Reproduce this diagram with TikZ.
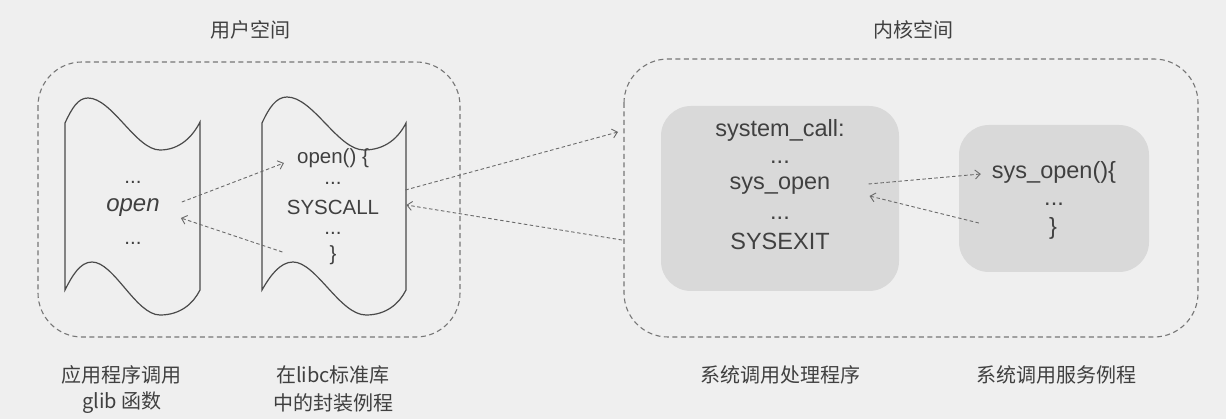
\documentclass[tikz,border=0pt]{standalone}
\usepackage{fontspec}
\setmainfont{Liberation Sans}
\newfontfamily\cjk{Noto Sans CJK SC}
\usetikzlibrary{arrows.meta}
\definecolor{bggray}{HTML}{EFEFEF}
\definecolor{boxgray}{HTML}{D9D9D9}
\definecolor{txtgray}{HTML}{404040}
\definecolor{linegray}{HTML}{767676}
\definecolor{arrowgray}{HTML}{6A6A6A}
\definecolor{edgegray}{HTML}{4A4A4A}
\tikzset{
  code/.style={text=txtgray, inner sep=0pt, font=\fontsize{20.5}{23}\selectfont},
  kcode/.style={text=txtgray, inner sep=0pt, font=\fontsize{23.5}{27}\selectfont},
  caption/.style={text=txtgray, inner sep=0pt, font=\cjk\fontsize{20}{24}\selectfont},
  spacebox/.style={draw=linegray, dash pattern=on 5pt off 3.5pt, rounded corners=44pt, line width=1.1pt},
  kbox/.style={fill=boxgray, rounded corners=30pt, inner sep=0pt},
  scroll/.style={draw=edgegray, line width=1.2pt},
  call/.style={draw=arrowgray, dash pattern=on 3.5pt off 2.5pt, line width=0.9pt, -{Straight Barb[length=5pt,width=9pt]}},
}
\begin{document}
\begin{tikzpicture}[x=1pt,y=-1pt]
    \fill[bggray] (0,0) rectangle (1226,419);
    \useasboundingbox (0,0) rectangle (1226,419);
    % user space
    \node[caption] (user) at (250,30) {用户空间};
    \draw[spacebox] (38,62) rectangle (460,337);
    \draw[scroll] (65,123) .. controls (72,108) and (78,98) .. (88,98)
        .. controls (112,98) and (136,150) .. (160,150)
        .. controls (180,150) and (193,136) .. (200,122) -- (200,290)
        .. controls (193,304) and (180,315) .. (160,315)
        .. controls (136,315) and (114,262) .. (92,262)
        .. controls (80,262) and (72,276) .. (65,290) -- cycle;
    \draw[scroll] (262,123) .. controls (269,108) and (276,97) .. (287,97)
        .. controls (313,97) and (338,150) .. (364,150)
        .. controls (386,150) and (399,137) .. (406,123) -- (406,290)
        .. controls (399,304) and (386,315) .. (366,315)
        .. controls (340,315) and (316,262) .. (293,262)
        .. controls (280,262) and (270,276) .. (262,290) -- cycle;
    \node[code] (dotsa) at (133,182) {...};
    \node[code, font=\fontsize{24}{27}\selectfont\itshape] (open) at (133,208) {open};
    \node[code] (dotsb) at (133,243) {...};
    \node[code] (openfn) at (333,158) {open()\ \{};
    \node[code] (dotsc) at (333,183) {...};
    \node[code] (syscall) at (333,207) {SYSCALL};
    \node[code] (dotsd) at (333,233) {...};
    \node[code] (closefn) at (333,255) {\}};
    % kernel space
    \node[caption] (kernel) at (913,30) {内核空间};
    \draw[spacebox] (624,59) rectangle (1198,337);
    \node[kbox, minimum width=238, minimum height=185] (handler) at (780,198.5) {};
    \node[kbox, minimum width=190, minimum height=147] (service) at (1054,198.5) {};
    \node[kcode] (sysentry) at (780,130) {system\_call:};
    \node[kcode] (dotse) at (780,162) {...};
    \node[kcode] (sysopen) at (780,186) {sys\_open};
    \node[kcode] (dotsf) at (780,218) {...};
    \node[kcode] (sysexit) at (780,241) {SYSEXIT};
    \node[kcode] (sysopenfn) at (1054,172) {sys\_open()\{};
    \node[kcode] (dotsg) at (1054,204) {...};
    \node[kcode] (sysclose) at (1053,228) {\}};
    \coordinate (kin) at (618,132);
    \coordinate (kout) at (622,240);
    % calls
    \draw[call] ([shift={(22,-6)}]open.east) -- ([shift={(-13,5)}]openfn.west);
    \draw[call] ([shift={(-47,-3)}]closefn.west) -- ([shift={(21,10)}]open.east);
    \draw[call] ([shift={(26,-17)}]syscall.east) -- (kin);
    \draw[call] (kout) -- ([shift={(27,-2)}]syscall.east);
    \draw[call] ([shift={(38,-2)}]sysopen.east) -- ([shift={(-11,2)}]sysopenfn.west);
    \draw[call] ([shift={(-70,-5)}]sysclose.west) -- ([shift={(39,10)}]sysopen.east);
    % captions
    \node[caption] (appcall) at (121,375) {应用程序调用};
    \node[caption] (glib) at (122,403) {glib 函数};
    \node[caption] (libc) at (333,375) {在libc标准库};
    \node[caption] (wrapper) at (333,403) {中的封装例程};
    \node[caption] (handlerlabel) at (780,375) {系统调用处理程序};
    \node[caption] (servicelabel) at (1056,375) {系统调用服务例程};
\end{tikzpicture}
\end{document}
